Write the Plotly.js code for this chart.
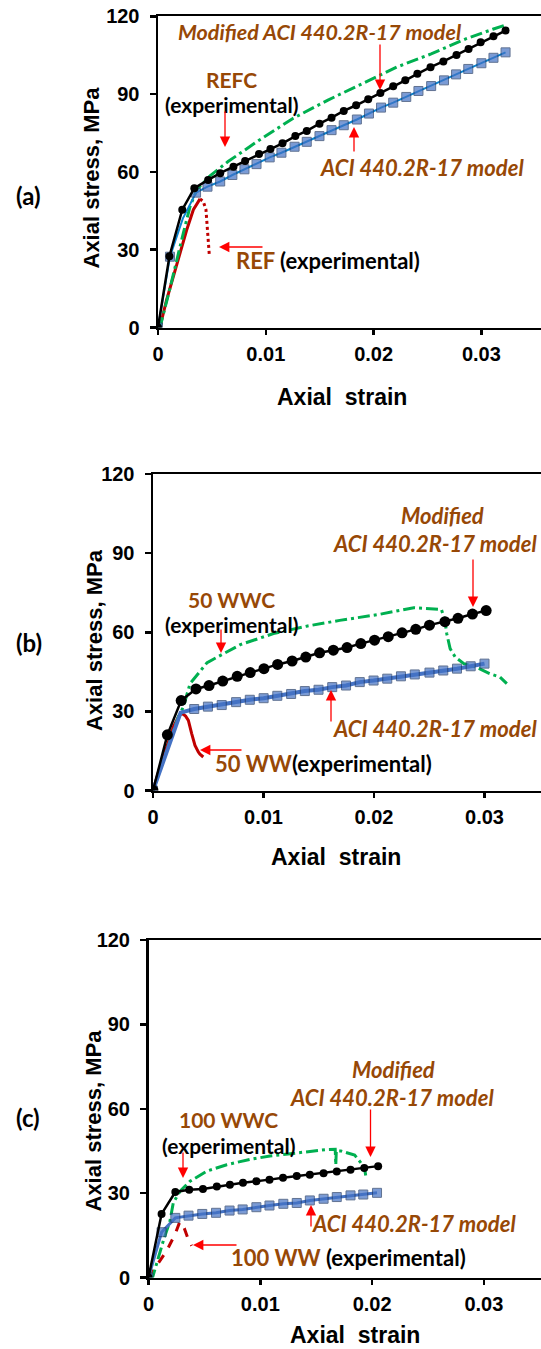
<!DOCTYPE html>
<html>
<head>
<meta charset="utf-8">
<script src="https://cdn.plot.ly/plotly-3.0.1.min.js"></script>
<style>
html,body{margin:0;padding:0;overflow:hidden;background:#fff;}
#wrap{width:541px;height:1349px;overflow:hidden;position:relative;}
#plot{width:600px;height:1349px;}
</style>
</head>
<body>
<div id="wrap"><div id="plot"></div></div>
<script>
// ---------- DATA ----------
// Panel (a)
const aModStrain = [0, 0.00106, 0.00225, 0.00337, 0.00465, 0.00577, 0.0070, 0.00808, 0.00937, 0.01043, 0.01155, 0.01274, 0.0138, 0.01498, 0.0161, 0.01723, 0.01838, 0.0195, 0.02063, 0.02182, 0.02294, 0.02406, 0.02528, 0.02647, 0.02769, 0.02881, 0.02993, 0.03112, 0.03224];
const aModStress = [0, 27.5, 45.4, 53.7, 56.9, 59.5, 62.0, 64.2, 66.9, 68.8, 71.0, 73.8, 75.8, 78.6, 80.9, 83.5, 85.7, 88.0, 90.4, 93.0, 95.3, 97.8, 100.4, 102.6, 105.1, 107.4, 110.0, 112.3, 114.5];
const aAciStrain = [0, 0.00111, 0.0023, 0.00353, 0.00459, 0.00577, 0.0069, 0.00802, 0.00914, 0.01036, 0.01145, 0.01267, 0.0138, 0.01498, 0.0161, 0.01723, 0.01845, 0.01957, 0.02069, 0.02182, 0.02303, 0.02416, 0.02534, 0.02653, 0.02765, 0.02878, 0.03, 0.03112, 0.03224];
const aAciStress = [0, 27.3, 42.0, 52.0, 54.3, 56.3, 58.8, 61.0, 63.0, 65.6, 67.4, 69.7, 71.6, 73.8, 76.1, 78.0, 80.2, 82.5, 84.8, 86.7, 88.9, 91.2, 93.1, 95.3, 97.6, 99.7, 101.9, 104.0, 106.1];
const aRefcStrain = [0, 0.0002, 0.00111, 0.00173, 0.00235, 0.00297, 0.0036, 0.0048, 0.0065, 0.0093, 0.01251, 0.01572, 0.01893, 0.02214, 0.02534, 0.02855, 0.03112, 0.03208];
const aRefcStress = [0, 0.3, 15.1, 26.1, 36.4, 46.6, 53.1, 58.4, 64.0, 72.0, 80.6, 87.6, 94.0, 100.4, 105.5, 111.3, 115.1, 116.4];
const aRefStrain = [0, 0.00019, 0.0008, 0.00142, 0.00204, 0.00266, 0.00328, 0.0039];
const aRefStress = [0, 0.3, 10.6, 19.6, 28.6, 37.6, 45.4, 49.6];
const aRefPostStrain = [0.0039, 0.0042, 0.00445, 0.00457, 0.00467, 0.00476];
const aRefPostStress = [49.6, 48.6, 45.4, 38.9, 32.5, 28.0];

// Panel (b)
const bModStrain = [0, 0.0013, 0.00255, 0.00389, 0.00507, 0.00631, 0.00762, 0.0088, 0.01004, 0.01128, 0.01259, 0.01383, 0.01508, 0.01632, 0.01756, 0.01881, 0.02005, 0.02129, 0.02254, 0.02378, 0.02502, 0.02642, 0.0276, 0.02891, 0.03015];
const bModStress = [0, 21.1, 34.1, 38.5, 39.8, 41.5, 43.3, 44.7, 46.2, 47.8, 49.1, 50.6, 52.2, 53.2, 54.2, 55.7, 57.0, 58.3, 59.8, 61.1, 62.7, 64.0, 65.3, 66.9, 68.2];
const bAciStrain = [0, 0.0013, 0.0025, 0.00373, 0.00497, 0.00622, 0.00752, 0.00876, 0.01001, 0.01125, 0.0125, 0.01374, 0.01498, 0.01622, 0.01747, 0.01871, 0.01996, 0.0212, 0.02244, 0.02369, 0.02502, 0.02627, 0.02751, 0.02875, 0.03];
const bAciStress = [0, 15.5, 29.5, 30.9, 31.8, 32.4, 33.5, 34.4, 35.0, 35.9, 36.6, 37.7, 38.2, 39.2, 39.8, 41.1, 41.7, 42.4, 43.3, 44.0, 44.7, 45.5, 46.2, 47.1, 48.1];
const bWwcStrain = [0, 0.00094, 0.00184, 0.00229, 0.00275, 0.00335, 0.0049, 0.0079, 0.0109, 0.0139, 0.0169, 0.0205, 0.0236, 0.0250, 0.0261, 0.02642, 0.02658, 0.02689, 0.02735, 0.02813, 0.02922, 0.03046, 0.0314, 0.03202];
const bWwcStress = [0, 11.4, 22.8, 27.9, 31.7, 40.5, 48.5, 55.3, 59.5, 62.3, 64.5, 66.8, 69.3, 69.0, 68.6, 64.6, 59.5, 53.8, 50.6, 48.1, 46.8, 44.3, 43.0, 40.5];
const bWwStrain = [0, 0.00063, 0.00124, 0.00184, 0.00238, 0.00265, 0.00295, 0.0032, 0.0035, 0.0038, 0.0041, 0.00425, 0.00455];
const bWwStress = [0, 8.9, 16.5, 24.1, 28.5, 29.2, 28.2, 26.6, 21.6, 17.1, 14.6, 13.8, 12.7];

// Panel (c)
const cModStrain = [0, 0.00117, 0.0024, 0.00364, 0.00487, 0.00611, 0.00728, 0.00845, 0.00965, 0.01082, 0.01203, 0.01326, 0.01443, 0.01566, 0.01684, 0.01807, 0.0193, 0.02054];
const cModStress = [0, 22.6, 30.4, 31.2, 31.5, 32.4, 33.0, 33.7, 34.2, 34.8, 35.5, 36.1, 36.5, 37.1, 37.7, 38.3, 38.9, 39.6];
const cAciStrain = [0, 0.00117, 0.0024, 0.00358, 0.00481, 0.00604, 0.00725, 0.00842, 0.00965, 0.01082, 0.01206, 0.01326, 0.01443, 0.01566, 0.01684, 0.01807, 0.01921, 0.02044];
const cAciStress = [0, 16.1, 21.2, 22.0, 22.6, 23.0, 23.8, 24.2, 25.0, 25.6, 26.2, 26.5, 27.4, 28.0, 28.6, 29.2, 29.5, 30.1];
const cWwcStrain = [0, 0.00037, 0.00133, 0.00192, 0.00222, 0.00282, 0.00371, 0.0052, 0.007, 0.00908, 0.01087, 0.01289, 0.01597, 0.0167, 0.01675, 0.0168, 0.01721, 0.01844, 0.0193, 0.01943];
const cWwcStress = [0, 0.1, 13.1, 20.1, 26.6, 30.7, 34.2, 37.8, 40.1, 42.0, 43.2, 44.2, 45.5, 45.6, 40.0, 45.0, 45.0, 43.5, 39.3, 36.3];
const cWwStrain = [0, 0.0008, 0.00163, 0.0024, 0.0028, 0.0032, 0.0035, 0.00386];
const cWwStress = [0, 4.5, 9.5, 15.6, 19.8, 17.5, 14.2, 11.3];

// Axis ticks
const xTickVals = [0, 0.01, 0.02, 0.03, 0.04];
const xTickText = ['0', '0.01', '0.02', '0.03', '0.04'];
const yTickVals = [0, 30, 60, 90, 120];
const yTickText = ['0', '30', '60', '90', '120'];

// ---------- LAYOUT ----------
const W = 600, H = 1349;
const px = v => v / W;
const py = v => 1 - v / H;
const AX_FONT = 'Liberation Sans, Arial, sans-serif';
const TX_FONT = 'Lato, Open Sans, sans-serif';
const BROWN = '#974806';
const RED = '#C00000';
const GREEN = '#00B050';
const BLUE_FILL = '#4472C4';
const BLUE_EDGE = '#1F3864';

const panels = [
  {l:158, r:589.2, t:16.3, b:327.5},
  {l:153, r:595, t:474, b:790.5},
  {l:148.5, r:595.7, t:940, b:1277.5}
];

const traces = [];
function addPanel(i, red, redPost, redDash, green, aci, aciLine, aciLW, hideAci, mod, modSize, sqSize) {
  const xa = i === 0 ? 'x' : 'x' + (i + 1);
  const ya = i === 0 ? 'y' : 'y' + (i + 1);
  traces.push({x: red[0], y: red[1], xaxis: xa, yaxis: ya, mode: 'lines',
    line: {color: RED, width: 3, dash: redDash}, showlegend: false, hoverinfo: 'skip'});
  if (redPost) traces.push({x: redPost[0], y: redPost[1], xaxis: xa, yaxis: ya, mode: 'lines',
    line: {color: RED, width: 3, dash: 'dot'}, showlegend: false, hoverinfo: 'skip'});
  traces.push({x: green[0], y: green[1], xaxis: xa, yaxis: ya, mode: 'lines',
    line: {color: GREEN, width: 3, dash: '12px,4px,3px,4px'}, showlegend: false, hoverinfo: 'skip'});
  const sizes = aci[0].map((v, k) => hideAci.indexOf(k) >= 0 ? 0 : sqSize);
  traces.push({x: aci[0], y: aci[1], xaxis: xa, yaxis: ya, mode: 'lines+markers',
    line: {color: aciLine, width: aciLW},
    marker: {symbol: 'square', size: sizes, color: BLUE_FILL, line: {color: BLUE_EDGE, width: 1}},
    showlegend: false, hoverinfo: 'skip'});
  traces.push({x: mod[0], y: mod[1], xaxis: xa, yaxis: ya, mode: 'lines+markers',
    line: {color: '#000', width: 2.5},
    marker: {symbol: 'circle', size: modSize, color: '#000'},
    showlegend: false, hoverinfo: 'skip'});
}
addPanel(0, [aRefStrain, aRefStress], [aRefPostStrain, aRefPostStress], 'solid',
  [aRefcStrain, aRefcStress], [aAciStrain, aAciStress], '#0A84D0', 2, [2], [aModStrain, aModStress], 8, 9);
addPanel(1, [bWwStrain, bWwStress], null, 'solid',
  [bWwcStrain, bWwcStress], [bAciStrain, bAciStress], '#4472C4', 4, [1, 2], [bModStrain, bModStress], 11, 9);
addPanel(2, [cWwStrain, cWwStress], null, 'dash',
  [cWwcStrain, cWwcStress], [cAciStrain, cAciStress], '#4472C4', 3, [], [cModStrain, cModStress], 8, 9);

const layout = {
  width: W, height: H,
  margin: {l: 0, r: 0, t: 0, b: 0},
  paper_bgcolor: '#fff', plot_bgcolor: '#fff',
  showlegend: false,
  annotations: [], shapes: []
};
panels.forEach((p, i) => {
  const sx = i === 0 ? '' : String(i + 1);
  layout['xaxis' + sx] = {
    domain: [px(p.l), px(p.r)], anchor: 'y' + sx, range: [0, 0.04],
    tickvals: xTickVals, ticktext: xTickText,
    showline: true, linecolor: '#000', linewidth: 2.5, mirror: true,
    ticks: 'outside', ticklen: 5, tickwidth: 2.5, tickcolor: '#000',
    ticklabelstandoff: 2,
    tickfont: {family: AX_FONT, size: 20, color: '#000', weight: 'bold'},
    showgrid: false, zeroline: false, fixedrange: true
  };
  layout['yaxis' + sx] = {
    domain: [py(p.b), py(p.t)], anchor: 'x' + sx, range: [0, 120],
    tickvals: yTickVals, ticktext: yTickText,
    showline: true, linecolor: '#000', linewidth: 2.5,
    ticks: 'outside', ticklen: 6, tickwidth: 2.5, tickcolor: '#000',
    ticklabelstandoff: 6,
    tickfont: {family: AX_FONT, size: 20, color: '#000', weight: 'bold'},
    showgrid: false, zeroline: false, fixedrange: true
  };
});

function txt(x, y, text, opts) {
  layout.annotations.push(Object.assign({
    x: px(x), y: py(y), xref: 'paper', yref: 'paper', text: text, showarrow: false,
    xanchor: 'center', yanchor: 'middle',
    font: {family: TX_FONT, size: 22, color: '#000'}
  }, opts || {}));
}
function arrow(tx, ty, hx, hy) {
  layout.annotations.push({
    x: px(hx), y: py(hy), xref: 'paper', yref: 'paper', ax: tx - hx, ay: ty - hy,
    text: '', showarrow: true, arrowhead: 2, arrowsize: 1.6, arrowwidth: 1.3, arrowcolor: '#FF0000'
  });
}
const br = s => '<span style="color:' + BROWN + '">' + s + '</span>';
// sample name over "(experimental)"
function twoLine(x, y, name) {
  const f = {family: TX_FONT, size: 21, color: '#000'};
  txt(x, y - 13, '<b>' + br(name) + '</b>', {font: f});
  txt(x, y + 13, '<b>(experimental)</b>', {font: f});
}

// axis titles and panel labels
const yTitles = [[91, 177.5], [94, 640], [92.5, 1121]];
const xTitles = [[341.5, 397], [336, 857], [355, 1335]];
const labels = [[28.5, 196, '(a)'], [28.5, 643, '(b)'], [28, 1117, '(c)']];
yTitles.forEach(t => txt(t[0], t[1], '<b>Axial stress, MPa</b>', {textangle: -90, font: {family: AX_FONT, size: 22, color: '#000'}}));
xTitles.forEach(t => txt(t[0], t[1], '<b>Axial  strain</b>', {font: {family: AX_FONT, size: 23, color: '#000'}}));
labels.forEach(t => txt(t[0], t[1], '<b>' + t[2] + '</b>', {font: {family: TX_FONT, size: 24, color: '#000'}}));

// panel (a)
txt(319.5, 32, '<b><i>' + br('Modified ACI 440.2R-17 model') + '</i></b>', {font: {family: TX_FONT, size: 21.5, color: '#000'}});
twoLine(231, 92, 'REFC');
txt(422, 167, '<b><i>' + br('ACI 440.2R-17 model') + '</i></b>');
txt(327.7, 261, '<b>' + br('REF') + ' (experimental)</b>');
arrow(380, 43, 380, 90);
arrow(225, 110, 225, 147);
arrow(354, 153, 354, 127);
arrow(264, 247, 219, 247);

// panel (b)
txt(442, 515, '<b><i>' + br('Modified') + '</i></b>');
txt(539, 543.5, '<b><i>' + br('ACI 440.2R-17 model') + '</i></b>', {xanchor: 'right'});
twoLine(231, 612, '50 WWC');
txt(331, 728, '<b><i>' + br('ACI 440.2R-17 model') + '</i></b>', {xanchor: 'left'});
txt(323.7, 763, '<b>' + br('50 WW') + '(experimental)</b>');
arrow(473, 558, 473, 607);
arrow(221, 628, 221, 653);
arrow(331, 723, 331, 690);
arrow(243, 750, 200, 750);

// panel (c)
txt(393, 1069, '<b><i>' + br('Modified') + '</i></b>');
txt(392, 1097.5, '<b><i>' + br('ACI 440.2R-17 model') + '</i></b>');
twoLine(228, 1132.5, '100 WWC');
txt(414, 1223, '<b><i>' + br('ACI 440.2R-17 model') + '</i></b>');
txt(348, 1257, '<b>' + br('100 WW') + ' (experimental)</b>');
arrow(370.5, 1108, 370.5, 1157);
arrow(183, 1151, 183, 1178);
arrow(311, 1228, 311, 1205);
arrow(238, 1245, 193, 1245);

Plotly.newPlot('plot', traces, layout, {staticPlot: true, displayModeBar: false});
</script>
</body>
</html>
